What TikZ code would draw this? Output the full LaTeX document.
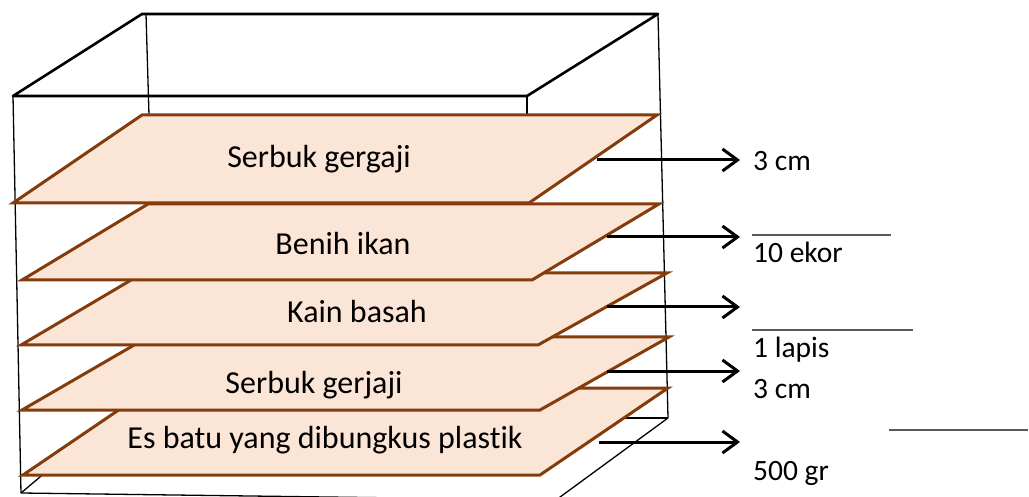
\documentclass[tikz,border=0pt]{standalone}
\usepackage{fontspec}
\setmainfont{Carlito}[Ligatures=NoCommon]
\usetikzlibrary{arrows.meta}
\definecolor{plfill}{HTML}{FBE5D6}
\definecolor{pledge}{HTML}{843C0C}
\definecolor{ulgray}{HTML}{595959}
\begin{document}
\begin{tikzpicture}[x=1pt,y=-1pt,
  boxthick/.style={line width=2.6pt, line join=round},
  boxthin/.style={line width=1.3pt},
  plate/.style={fill=plfill, draw=pledge, line width=3pt, line join=miter},
  ptext/.style={anchor=base, font=\fontsize{32}{37}\selectfont, inner sep=0pt},
  ltext/.style={anchor=base west, font=\fontsize{29.5}{34}\selectfont, inner sep=0pt},
  arr/.style={line width=3pt, -{Straight Barb[length=15pt,width=22pt]}},
  uline/.style={draw=ulgray, line width=2.2pt}]
\useasboundingbox (0,0) rectangle (1029,497);
\clip (0,0) rectangle (1029,497);
% box
\coordinate (tbl) at (142,14);
\coordinate (tbr) at (658,14);
\coordinate (tfr) at (527,96);
\coordinate (tfl) at (13,96);
\coordinate (bbr) at (668,418);
\coordinate (bbl) at (149,418);
\coordinate (bfl) at (21,493);
\coordinate (bfr) at (556,500);
\draw[boxthick] (tbl) -- (tbr) -- (tfr) -- (tfl) -- cycle;
\draw[boxthin] (146,14) -- (149,115);
\draw[boxthin] (tfr) -- (527,115);
\draw[boxthin] (tfl) -- (bfl);
\draw[boxthin] (tbr) -- (bbr);
\draw[boxthin] (bbr) -- (bbl);
\draw[boxthin] (bfl) -- (59,461);
\draw[boxthin] (bfl) -- (bfr) -- (bbr);
% plates (lower first)
\draw[plate] (151,388) -- (668,388) -- (540,475) -- (23,475) -- cycle;
\draw[plate] (148,337) -- (669,337) -- (540,410) -- (22,410) -- cycle;
\draw[plate] (143,273) -- (667,273) -- (538,345) -- (21,345) -- cycle;
\draw[plate] (148,204) -- (659,204) -- (532,280) -- (22,280) -- cycle;
\draw[plate] (142,115) -- (657,115) -- (529,203) -- (13,203) -- cycle;
% plate texts
\node[ptext] (t1) at (319,168) {Serbuk gergaji};
\node[ptext] (t2) at (343,255) {Benih ikan};
\node[ptext] (t3) at (357,323) {Kain basah};
\node[ptext] (t4) at (314,393) {Serbuk gerjaji};
\node[ptext] (t5) at (325,448) {Es batu yang dibungkus plastik};
% arrows
\coordinate (a1s) at (597,160); \coordinate (a1e) at (740,160);
\coordinate (a2s) at (607,237); \coordinate (a2e) at (740,237);
\coordinate (a3s) at (607,307); \coordinate (a3e) at (740,307);
\coordinate (a4s) at (607,371); \coordinate (a4e) at (740,371);
\coordinate (a5s) at (599,442); \coordinate (a5e) at (740,442);
\draw[arr] (a1s) -- (a1e);
\draw[arr] (a2s) -- (a2e);
\draw[arr] (a3s) -- (a3e);
\draw[arr] (a4s) -- (a4e);
\draw[arr] (a5s) -- (a5e);
% underlines
\coordinate (u1a) at (752,235); \coordinate (u1b) at (891,235);
\coordinate (u2a) at (752,330); \coordinate (u2b) at (913,330);
\coordinate (u3a) at (889,430); \coordinate (u3b) at (1028,430);
\draw[uline] (u1a) -- (u1b);
\draw[uline] (u2a) -- (u2b);
\draw[uline] (u3a) -- (u3b);
% labels
\node[ltext] (l1) at (753,171) {3 cm};
\node[ltext] (l2) at (753,263) {10 ekor};
\node[ltext] (l3) at (753,358) {1 lapis};
\node[ltext] (l4) at (753,398) {3 cm};
\node[ltext] (l5) at (753,480) {500 gr};
\end{tikzpicture}
\end{document}
